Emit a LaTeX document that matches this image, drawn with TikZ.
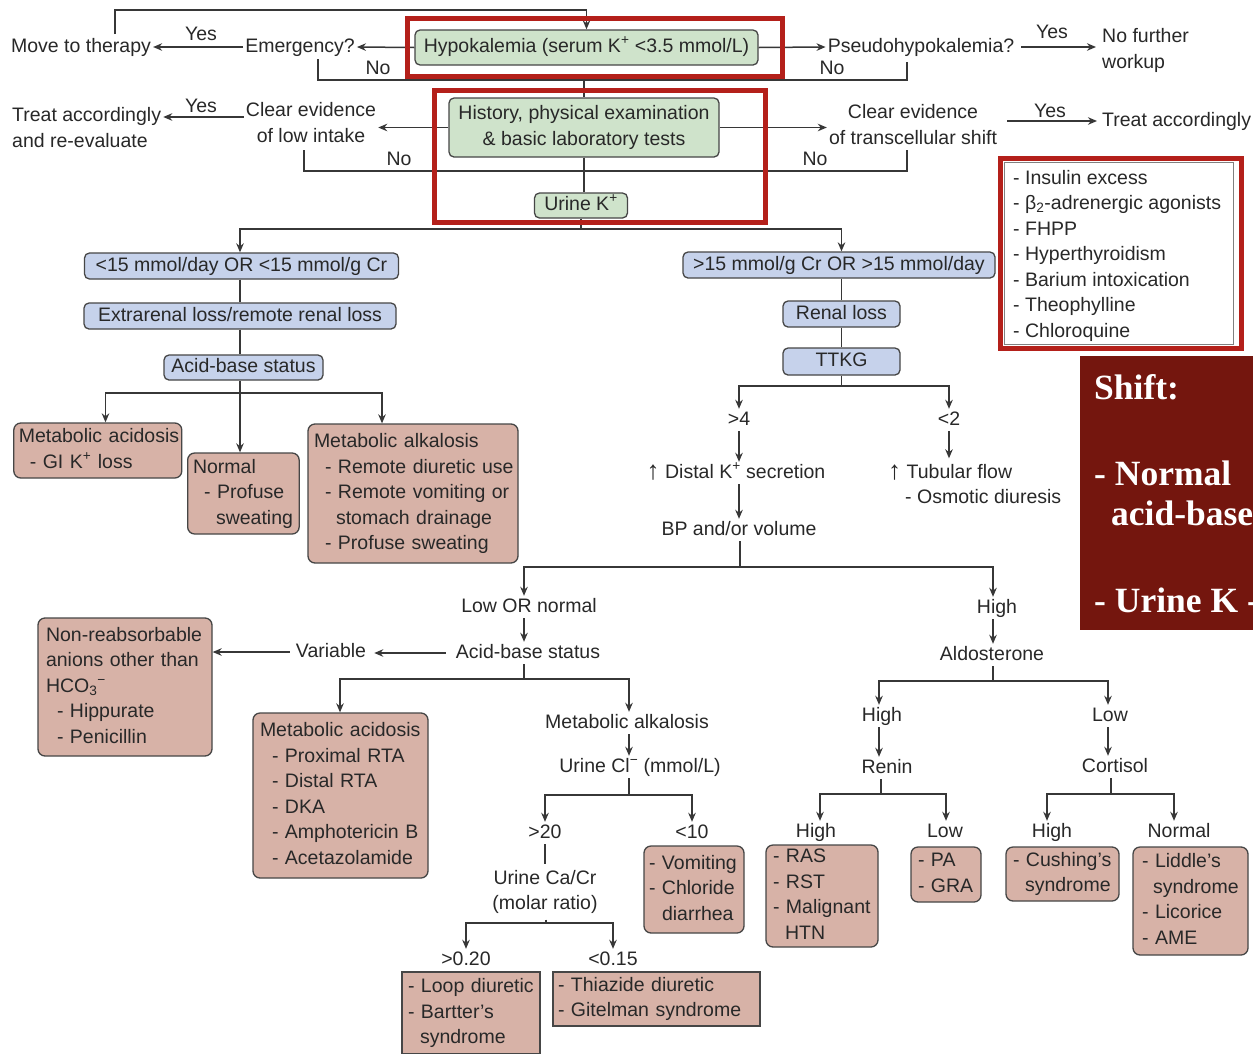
\documentclass[tikz,border=0pt]{standalone}
\usepackage{fontspec}
\setmainfont{Liberation Sans}
\newfontfamily\shiftfont{Liberation Serif}
\usetikzlibrary{arrows.meta}
\definecolor{txtc}{RGB}{40,40,40}
\definecolor{linec}{RGB}{55,55,55}
\definecolor{boxc}{RGB}{70,70,70}
\definecolor{greenc}{RGB}{207,227,203}
\definecolor{bluec}{RGB}{198,210,235}
\definecolor{pinkc}{RGB}{215,178,167}
\definecolor{redc}{RGB}{180,32,26}
\definecolor{darkredc}{RGB}{116,22,14}
\newcommand\fs{\fontsize{19.5}{25.5}\selectfont}
\newcommand\tbl[1]{\begin{tabular}{@{}l@{}}#1\end{tabular}}
\newcommand\tbc[1]{\begin{tabular}{@{}c@{}}#1\end{tabular}}
\newcommand\sps[1]{\textsuperscript{#1}}
\newcommand\uparr{\raisebox{-1.5pt}{\fontsize{26}{26}\selectfont ↑}}
\tikzset{
  every node/.style={font=\fs, text=txtc},
  t/.style={inner sep=2pt, text height=14pt, text depth=4pt},
  tm/.style={inner sep=2pt},
  bxbase/.style={draw=boxc, line width=1.3pt, rounded corners=5pt, inner sep=0pt},
  bx/.style={bxbase, text height=14pt, text depth=4pt},
  gbox/.style={bx, fill=greenc},
  bbox/.style={bx, fill=bluec},
  pbox/.style={draw=boxc, line width=1.3pt, rounded corners=7pt, fill=pinkc, inner ysep=0pt, align=left},
  sbox/.style={pbox, rounded corners=0pt},
  ln/.style={draw=linec, line width=1.5pt},
  arr/.style={ln, -{Stealth[length=9pt, width=7.5pt]}},
  redframe/.style={draw=redc, line width=5pt},
  shiftt/.style={font=\shiftfont\bfseries\fontsize{35.5}{40}\selectfont, text=white, anchor=west, inner sep=0pt},
}
\begin{document}
\begin{tikzpicture}[x=1pt, y=-1pt]
\useasboundingbox (0,0) rectangle (1253,1053);
\fill[white] (0,0) rectangle (1253,1053);

% ---------- top rows ----------
\node[gbox, minimum width=343, minimum height=35] (hypo) at (586.5,47.5) {Hypokalemia (serum K\sps{+} <3.5 mmol/L)};
\node[t] (move) at (81,47) {Move to therapy};
\node[t] (emerg) at (300,47) {Emergency?};
\node[t] (pseudo) at (921,47) {Pseudohypokalemia?};
\node[tm, anchor=west] (nofur) at (1100,50.5) {\tbl{No further\\workup}};
\node[t] (yes1) at (201,35) {Yes};
\node[t] (no1) at (378,69) {No};
\node[t] (yes2) at (1052,33) {Yes};
\node[t] (no2) at (832,69) {No};

\node[bxbase, fill=greenc, minimum width=270, minimum height=59] (hist) at (584,127.5) {\tbc{History, physical examination\\\& basic laboratory tests}};
\node[tm] (lowint) at (311,124.5) {\tbc{Clear evidence\\of low intake}};
\node[tm, anchor=west] (treat1) at (10,129.5) {\tbl{Treat accordingly\\and re-evaluate}};
\node[tm] (trans) at (913,126.5) {\tbc{Clear evidence\\of transcellular shift}};
\node[t, anchor=west] (treat2) at (1100,121) {Treat accordingly};
\node[t] (yes3) at (201,107) {Yes};
\node[t] (yes4) at (1050,112) {Yes};
\node[t] (no3) at (399,160) {No};
\node[t] (no4) at (815,160) {No};

\node[gbox, minimum width=93, minimum height=25] (uk) at (581,205.5) {Urine K\sps{+}};

% ---------- left branch ----------
\node[bbox, minimum width=314, minimum height=26] (lt1) at (241.5,266) {<15 mmol/day OR <15 mmol/g Cr};
\node[bbox, minimum width=312, minimum height=26] (lt2) at (240,316) {Extrarenal loss/remote renal loss};
\node[bbox, minimum width=159, minimum height=25] (lt3) at (243.5,367.5) {Acid-base status};
\node[pbox, minimum height=55, text width=158, inner xsep=5] (lma) at (97.8,450.5) {\tbl{Metabolic acidosis\\\hspace*{11pt}- GI K\sps{+} loss}};
\node[pbox, minimum height=81, text width=100.7, inner xsep=5.4] (lnorm) at (243.4,493.5) {\tbl{Normal\\\hspace*{11pt}- Profuse\\\hspace*{23pt}sweating}};
\node[pbox, minimum height=139, text width=198, inner xsep=6] (lalk) at (413,493.5) {\tbl{Metabolic alkalosis\\\hspace*{11pt}- Remote diuretic use\\\hspace*{11pt}- Remote vomiting or\\\hspace*{22pt}stomach drainage\\\hspace*{11pt}- Profuse sweating}};

% ---------- right branch ----------
\node[bbox, minimum width=312, minimum height=26] (rt1) at (839,265) {>15 mmol/g Cr OR >15 mmol/day};
\node[bbox, minimum width=117, minimum height=26] (rt2) at (841.5,314) {Renal loss};
\node[bbox, minimum width=117, minimum height=27] (rt3) at (841.5,361.5) {TTKG};
\node[t] (gt4) at (739,420) {>4};
\node[t] (lt2v) at (949,420) {<2};
\node[t] (distal) at (736,473) {\uparr\ Distal K\sps{+} secretion};
\node[tm, anchor=west] (tubular) at (886,486) {\tbl{\uparr\ Tubular flow\\\hspace*{17pt}- Osmotic diuresis}};
\node[t] (bp) at (739,530) {BP and/or volume};
\node[t] (lowor) at (529,607) {Low OR normal};
\node[t] (high1) at (997,608) {High};
\node[t] (abs2) at (528,653) {Acid-base status};
\node[t] (variable) at (331,652) {Variable};
\node[t] (ald) at (992,655) {Aldosterone};
\node[pbox, minimum height=138, text width=158, inner xsep=8] (nonre) at (125,687) {\tbl{Non-reabsorbable\\anions other than\\HCO\textsubscript{3}\sps{−}\\\hspace*{11pt}- Hippurate\\\hspace*{11pt}- Penicillin}};
\node[pbox, minimum height=165, text width=161, inner xsep=7] (macid) at (340.5,795.5) {\tbl{Metabolic acidosis\\\hspace*{12pt}- Proximal RTA\\\hspace*{12pt}- Distal RTA\\\hspace*{12pt}- DKA\\\hspace*{12pt}- Amphotericin B\\\hspace*{12pt}- Acetazolamide}};
\node[t] (malk) at (627,723) {Metabolic alkalosis};
\node[t] (ucl) at (640,767) {Urine Cl\sps{−} (mmol/L)};
\node[t] (gt20) at (545,833) {>20};
\node[t] (lt10) at (692,833) {<10};
\node[tm] (ucacr) at (545,892) {\tbc{Urine Ca/Cr\\(molar ratio)}};
\node[t] (gt020) at (466,960) {>0.20};
\node[t] (lt015) at (613,960) {<0.15};
\node[pbox, minimum height=87, text width=90, inner xsep=5] (vomit) at (694,889.5) {\tbl{- Vomiting\\- Chloride\\\hspace*{13pt}diarrhea}};
\node[sbox, minimum height=82, text width=126, inner xsep=6] (loop) at (471,1013) {\tbl{- Loop diuretic\\- Bartter’s\\\hspace*{12pt}syndrome}};
\node[sbox, minimum height=54, text width=197, inner xsep=5] (thia) at (656.5,999) {\tbl{- Thiazide diuretic\\- Gitelman syndrome}};

\node[t] (high2) at (882,716) {High};
\node[t] (low2) at (1110,716) {Low};
\node[t] (renin) at (887,768) {Renin};
\node[t] (cortisol) at (1115,767) {Cortisol};
\node[t] (high3) at (816,832) {High};
\node[t] (low3) at (945,832) {Low};
\node[t] (high4) at (1052,832) {High};
\node[t] (normal4) at (1179,832) {Normal};
\node[pbox, minimum height=100, text width=98, inner xsep=7] (ras) at (822,896) {\tbl{- RAS\\- RST\\- Malignant\\\hspace*{12pt}HTN}};
\node[pbox, minimum height=55, text width=56, inner xsep=7] (pa) at (946,874.5) {\tbl{- PA\\- GRA}};
\node[pbox, minimum height=54, text width=99, inner xsep=7] (cush) at (1062.5,874) {\tbl{- Cushing’s\\\hspace*{12pt}syndrome}};
\node[pbox, minimum height=108, text width=97, inner xsep=9] (liddle) at (1190.5,901) {\tbl{- Liddle’s\\\hspace*{11pt}syndrome\\- Licorice\\- AME}};

% ---------- helper coordinates ----------
\coordinate (tl) at (115,34);
\coordinate (n1a) at (318,59);
\coordinate (n1b) at (907,62);
\coordinate (j1) at (584,80);
\coordinate (n2a) at (304,150);
\coordinate (n2b) at (907,150);
\coordinate (j2) at (584,171);
\coordinate (r2) at (0,117);
\coordinate (j3) at (581,229);
\coordinate (vL) at (240,0);
\coordinate (j4) at (240,393);
\coordinate (xa) at (105.5,0);
\coordinate (xb) at (382,0);
\coordinate (j5) at (841.5,386);
\coordinate (j6) at (740,567);
\coordinate (xc) at (524,0);
\coordinate (xd) at (993,0);
\coordinate (j7) at (524,679);
\coordinate (xe) at (340,0);
\coordinate (xf) at (629,0);
\coordinate (j8) at (629,795);
\coordinate (j9) at (546,923);
\coordinate (j10) at (993,681);
\coordinate (xg) at (879,0);
\coordinate (xh) at (1108,0);
\coordinate (j11) at (881,794);
\coordinate (xi) at (820,0);
\coordinate (xj) at (946,0);
\coordinate (j12) at (1111,794);
\coordinate (xk) at (1047,0);
\coordinate (xl) at (1174,0);

% ---------- connectors ----------
\draw[arr] (tl) -- (115,10) -| (hypo.north);
\draw[arr] (hypo.west) -- (emerg.east);
\draw[arr] (emerg.west) -- (move.east);
\draw[arr] (hypo.east) -- (pseudo.west);
\draw[arr, shorten <=5pt, shorten >=4pt] (pseudo.east) -- (pseudo.east -| nofur.west);
\draw[ln] (n1a) |- (n1b |- j1) -- (n1b);
\draw[ln] (j1) -- (j1 |- hist.north);

\draw[arr] (hist.west) -- (hist.west -| lowint.east);
\draw[arr] (hist.east) -- (hist.east -| trans.west);
\draw[arr] (lowint.west |- r2) -- (treat1.east |- r2);
\draw[arr, shorten <=8pt, shorten >=3pt] (trans.east |- treat2.west) -- (treat2.west);
\draw[ln] (n2a) |- (j2) -| (n2b);
\draw[ln] (hist.south) -- (hist.south |- uk.north);

\draw[arr] (uk.south) -- (j3) -| (vL |- lt1.north);
\draw[arr] (j3) -| (rt2 |- rt1.north);

\draw[ln] (vL |- lt1.south) -- (vL |- lt2.north);
\draw[ln] (vL |- lt2.south) -- (vL |- lt3.north);
\draw[ln] (vL |- lt3.south) -- (j4);
\draw[arr] (j4) -| (xa |- lma.north);
\draw[arr] (j4) -| (xb |- lalk.north);
\draw[arr] (j4) -- (vL |- lnorm.north);

\draw[ln] (rt2 |- rt1.south) -- (rt2.north);
\draw[ln] (rt2.south) -- (rt3.north);
\draw[ln] (rt3.south) -- (j5);
\draw[arr] (j5) -| (gt4.north);
\draw[arr] (j5) -| (lt2v.north);
\draw[arr] (gt4.south) -- (gt4 |- distal.north);
\draw[arr] (lt2v.south) -- (lt2v |- tubular.north);
\draw[arr] (gt4 |- distal.south) -- (gt4 |- bp.north);
\draw[ln] (j6 |- bp.south) -- (j6);
\draw[arr] (j6) -| (xc |- lowor.north);
\draw[arr] (j6) -| (xd |- high1.north);

\draw[arr] (xc |- lowor.south) -- (xc |- abs2.north);
\draw[arr, shorten <=8pt, shorten >=6pt] (abs2.west) -- (abs2.west -| variable.east);
\draw[arr, shorten <=4pt] (variable.west) -- (variable.west -| nonre.east);
\draw[ln] (xc |- abs2.south) -- (j7);
\draw[arr] (j7) -| (xe |- macid.north);
\draw[arr] (j7) -| (xf |- malk.north);
\draw[arr] (xf |- malk.south) -- (xf |- ucl.north);
\draw[ln] (xf |- ucl.south) -- (j8);
\draw[arr] (j8) -| (gt20.north);
\draw[arr] (j8) -| (lt10.north);
\draw[ln] (gt20.south) -- (gt20 |- ucacr.north);
\draw[ln] (j9 |- ucacr.south) -- (j9);
\draw[arr] (j9) -| (gt020.north);
\draw[arr] (j9) -| (lt015.north);

\draw[arr] (xd |- high1.south) -- (xd |- ald.north);
\draw[ln] (xd |- ald.south) -- (j10);
\draw[arr] (j10) -| (xg |- high2.north);
\draw[arr] (j10) -| (xh |- low2.north);
\draw[arr] (xg |- high2.south) -- (xg |- renin.north);
\draw[arr] (xh |- low2.south) -- (xh |- cortisol.north);
\draw[ln] (j11 |- renin.south) -- (j11);
\draw[arr] (j11) -| (xi |- high3.north);
\draw[arr] (j11) -| (xj |- low3.north);
\draw[ln] (j12 |- cortisol.south) -- (j12);
\draw[arr] (j12) -| (xk |- high4.north);
\draw[arr] (j12) -| (xl |- normal4.north);

% ---------- annotations ----------
\draw[redframe] (407,18) rectangle (782,76);
\draw[redframe] (434,90) rectangle (765,222);
\draw[draw=gray, line width=1pt] (1004,162) rectangle (1233,344);
\draw[redframe] (1000,158) rectangle (1241,348);
\node[tm, anchor=north west, inner sep=0pt] (shiftlist) at (1013,166) {\tbl{- Insulin excess\\- β\textsubscript{2}-adrenergic agonists\\- FHPP\\- Hyperthyroidism\\- Barium intoxication\\- Theophylline\\- Chloroquine}};

\fill[darkredc] (1080,356) rectangle (1270,630);
\node[shiftt] (sh1) at (1094,387) {Shift:};
\node[shiftt] (sh2) at (1094,473) {- Normal};
\node[shiftt] (sh3) at (1111,513) {acid-base};
\node[shiftt] (sh4) at (1094,600) {- Urine K -};
\end{tikzpicture}
\end{document}
